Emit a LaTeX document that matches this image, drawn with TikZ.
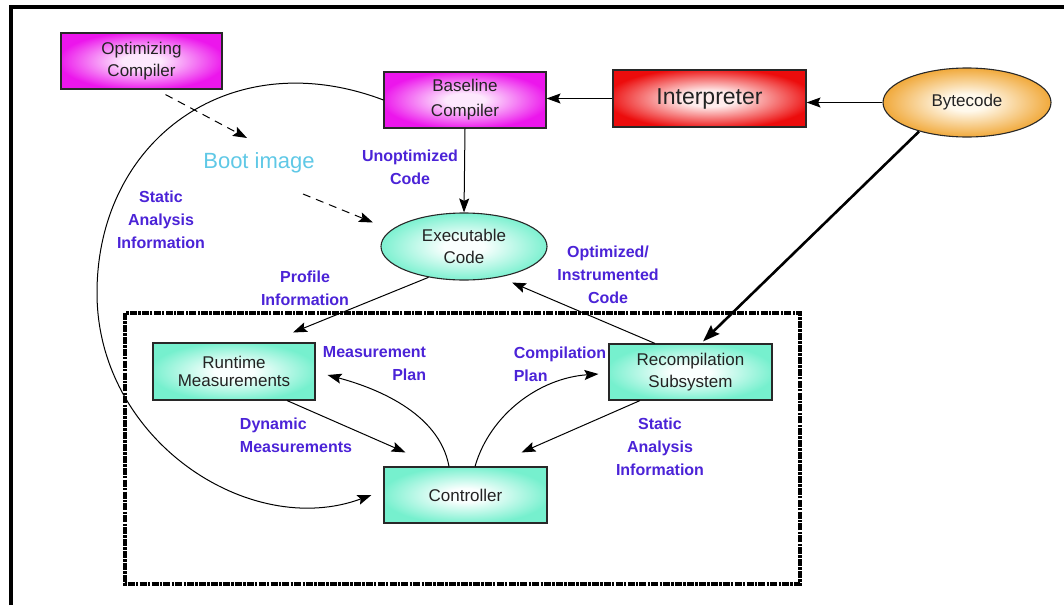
\documentclass[tikz,border=0pt]{standalone}
\usepackage{fontspec}
\setmainfont{Liberation Sans}
\usetikzlibrary{arrows.meta,shapes.geometric,calc}

\definecolor{lblblue}{RGB}{75,35,215}
\definecolor{bootcyan}{RGB}{95,200,230}
\definecolor{boxtext}{RGB}{35,35,35}
\definecolor{strokegray}{RGB}{40,40,40}
\definecolor{magin}{RGB}{253,232,253}
\definecolor{magout}{RGB}{236,22,236}
\definecolor{tealin}{RGB}{250,255,254}
\definecolor{tealout}{RGB}{118,240,206}
\definecolor{redin}{RGB}{255,236,236}
\definecolor{redout}{RGB}{236,12,12}
\definecolor{orgin}{RGB}{255,249,236}
\definecolor{orgout}{RGB}{240,165,50}

% soft radial glows: pale centre, saturated rim
\pgfdeclareradialshading{magglow}{\pgfpointorigin}{color(0bp)=(magin);color(6bp)=(magin);color(26bp)=(magout);color(50bp)=(magout)}
\pgfdeclareradialshading{tealglow}{\pgfpointorigin}{color(0bp)=(tealin);color(6bp)=(tealin);color(26bp)=(tealout);color(50bp)=(tealout)}
\pgfdeclareradialshading{redglow}{\pgfpointorigin}{color(0bp)=(redin);color(7bp)=(redin);color(27bp)=(redout);color(50bp)=(redout)}
\pgfdeclareradialshading{orgglow}{\pgfpointorigin}{color(0bp)=(orgin);color(6bp)=(orgin);color(26bp)=(orgout);color(50bp)=(orgout)}

\tikzset{
  box/.style={draw=strokegray, line width=1.1pt, minimum height=56pt, inner sep=0pt,
              align=center, text=boxtext, font=\fontsize{17}{20}\selectfont},
  magbox/.style={box, shading=magglow},
  tealbox/.style={box, shading=tealglow},
  redbox/.style={box, shading=redglow},
  oval/.style={box, ellipse},
  lbl/.style={text=lblblue, inner sep=0pt, align=center,
              font=\bfseries\fontsize{16}{23}\selectfont},
  flow/.style={draw=black, line width=1pt, -{Stealth[length=14pt,width=10pt,inset=2.5pt]}},
  bootflow/.style={flow, dash pattern=on 8pt off 6pt},
}

\begin{document}
\begin{tikzpicture}[x=1pt,y=-1pt]
\useasboundingbox (0,0) rectangle (1064,605);

% outer frame
\draw[line width=4pt] (11,605) -- (11,6.5) -- (1064,6.5);

% adaptive optimisation region
\draw[line width=3.5pt, dash pattern=on 7pt off 1.2pt on 2.5pt off 1.2pt] (125,313) rectangle (800,584);

% components
\node[magbox, minimum width=161pt, font=\fontsize{17}{22}\selectfont] (oc) at (141.5,61) {Optimizing\\Compiler};
\node[magbox, minimum width=162pt, font=\fontsize{17}{25}\selectfont] (bc) at (465,100) {Baseline\\Compiler};
\node[redbox, minimum width=193pt, minimum height=57pt, font=\fontsize{23}{26}\selectfont] (ip) at (709.5,98.5) {Interpreter};
\node[oval, shading=orgglow, minimum width=168pt, minimum height=69pt] (by) at (967,102.5) {Bytecode};
\node[oval, shading=tealglow, minimum width=166pt, minimum height=67pt, font=\fontsize{17}{22}\selectfont] (ec) at (464,246.5) {Executable\\Code};
\node[tealbox, minimum width=162pt, minimum height=57pt, font=\fontsize{17}{18}\selectfont] (rm) at (234,371.5) {Runtime\\Measurements};
\node[tealbox, minimum width=163pt] (ctl) at (465.5,495) {Controller};
\node[tealbox, minimum width=163pt, font=\fontsize{17}{22}\selectfont] (rs) at (690.5,372) {Recompilation\\Subsystem};

\node[text=bootcyan, inner sep=0pt, font=\fontsize{22}{24}\selectfont] (boot) at (259,163) {Boot image};

% edge labels
\node[lbl] (lunopt) at (410,167.5) {Unoptimized\\Code};
\node[lbl] (lstat1) at (161,220) {Static\\Analysis\\Information};
\node[lbl] (lprof) at (305,288) {Profile\\Information};
\node[lbl] (lopt) at (608,275) {Optimized/\\Instrumented\\Code};
\node[lbl, align=right] (lmeas) at (374.5,363.5) {Measurement\\Plan};
\node[lbl, align=left] (lcomp) at (560,364.5) {Compilation\\Plan};
\node[lbl, align=left] (ldyn) at (296,435.5) {Dynamic\\Measurements};
\node[lbl] (lstat2) at (660,447) {Static\\Analysis\\Information};

% connectors
\draw[flow] (by.west) -- (by.west -| ip.east);
\draw[flow] (ip.west) -- (ip.west -| bc.east);
\draw[flow] (bc.south) -- (ec.north);
\draw[flow, line width=2.6pt, -{Stealth[length=17pt,width=12pt,inset=2.5pt]}]
  ($(by.center)+(-48,29)$) -- ($(rs.north)+(12.5,-2)$);
\draw[flow] ($(rs.north)+(-35.5,0)$) -- ($(ec.center)+(48,36)$);
\draw[flow] (ec.221) -- ($(rm.north)+(59,-10)$);
\draw[flow] ($(rm.south)+(53,0)$) -- ($(ctl.north)+(-60,-14)$);
\draw[flow] ($(rs.south)+(-50.5,0)$) -- ($(ctl.north)+(56,-14)$);
\draw[flow] ($(ctl.north)+(-16.5,0)$) .. controls +(-10,-55) and +(45,12) .. ($(rm.east)+(12,3.5)$);
\draw[flow] ($(ctl.north)+(9.5,0)$) .. controls +(15,-52) and +(-59,4) .. ($(rs.west)+(-10,2)$);

% static analysis loop back to the controller
\coordinate (arcleft) at (97,293);
\draw[flow] (bc.west) .. controls +(-153,-58) and +(0,-153) .. (arcleft)
  .. controls +(0,147) and +(-122,45) .. ($(ctl.west)+(-12,0)$);

% boot image feeds
\coordinate (bootin) at (247,138);
\coordinate (bootout) at (303,194);
\draw[bootflow] ($(oc.south)+(24,5)$) -- (bootin);
\draw[bootflow] (bootout) -- ($(ec.center)+(-91,-24)$);
\end{tikzpicture}
\end{document}
